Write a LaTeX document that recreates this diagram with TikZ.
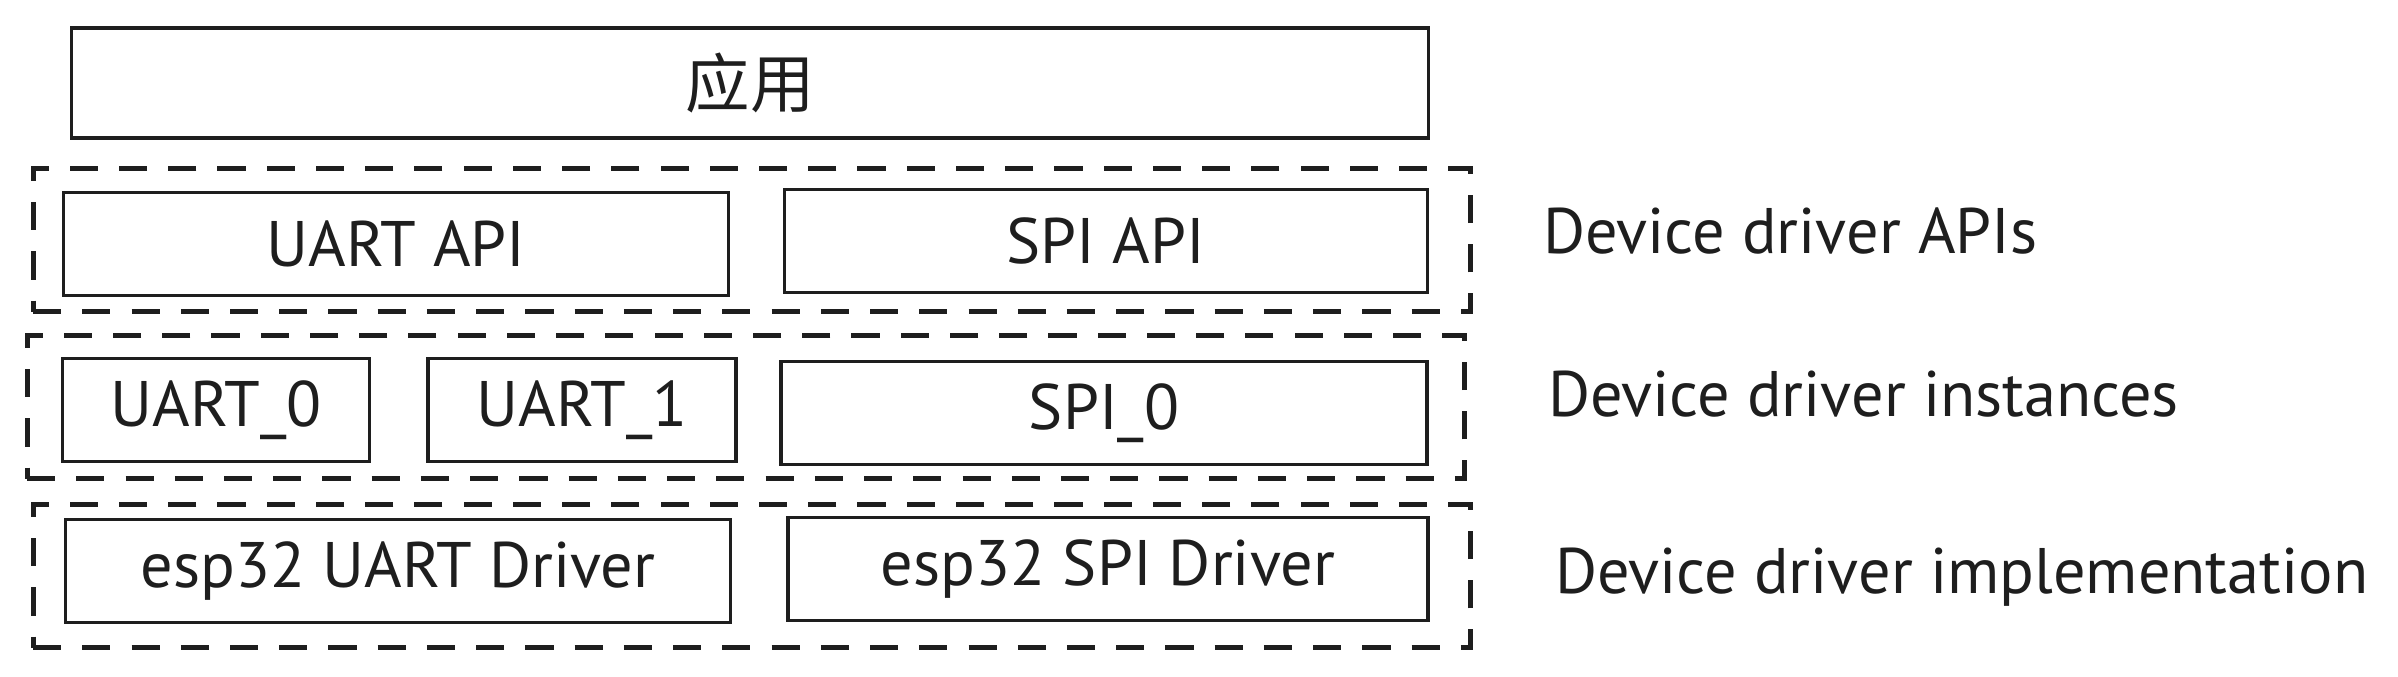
\documentclass[tikz,border=0pt]{standalone}
\usepackage{fontspec}
\setmainfont{PT Sans}
\newfontfamily\cjkfont{Noto Sans CJK SC}
\usepackage{tikz}
\usetikzlibrary{positioning}

\definecolor{ink}{HTML}{1E1E1E}

\begin{document}
\begin{tikzpicture}[
    x=0.01cm, y=-0.01cm,
    node distance=0.75cm,
    box/.style={draw=ink, line width=1pt, minimum height=1.03cm, inner sep=0pt, text=ink, font=\fontsize{18.3}{21}\selectfont},
    layer/.style={draw=ink, line width=1.4pt, dash pattern=on 8pt off 6pt, minimum width=14.37cm, minimum height=1.43cm, inner sep=0pt},
    note/.style={inner sep=0pt, text=ink, font=\fontsize{18.3}{21}\selectfont}
  ]
    \useasboundingbox (0,0) rectangle (2398,676);
    \node[box, minimum width=13.56cm, minimum height=1.1cm] (app) at (750,83) {\cjkfont 应用};

    \node[layer] (apis) at (752,240) {};
    \node[box, minimum width=6.65cm] (uartapi) at (396,244) {UART API};
    \node[box, minimum width=6.43cm] (spiapi) at (1106,241) {SPI API};

    \node[layer] (insts) at (746,407) {};
    \node[box, minimum width=3.07cm] (uart0) at (216,410) {UART\_0};
    \node[box, minimum width=3.08cm] (uart1) at (582,410) {UART\_1};
    \node[box, minimum width=6.46cm] (spi0) at (1104,413) {SPI\_0};

    \node[layer] (impl) at (752,576) {};
    \node[box, minimum width=6.65cm] (uartdrv) at (398,571) {esp32 UART Driver};
    \node[box, minimum width=6.40cm] (spidrv) at (1108,569) {esp32 SPI Driver};

    \node[note, right=0.69cm of apis, yshift=0.09cm] (apisnote) {Device driver APIs};
    \node[note, right=0.8cm of insts, yshift=0.13cm] (instsnote) {Device driver instances};
    \node[note, right=0.81cm of impl, yshift=-0.01cm] (implnote) {Device driver implementation};
  \end{tikzpicture}
\end{document}
